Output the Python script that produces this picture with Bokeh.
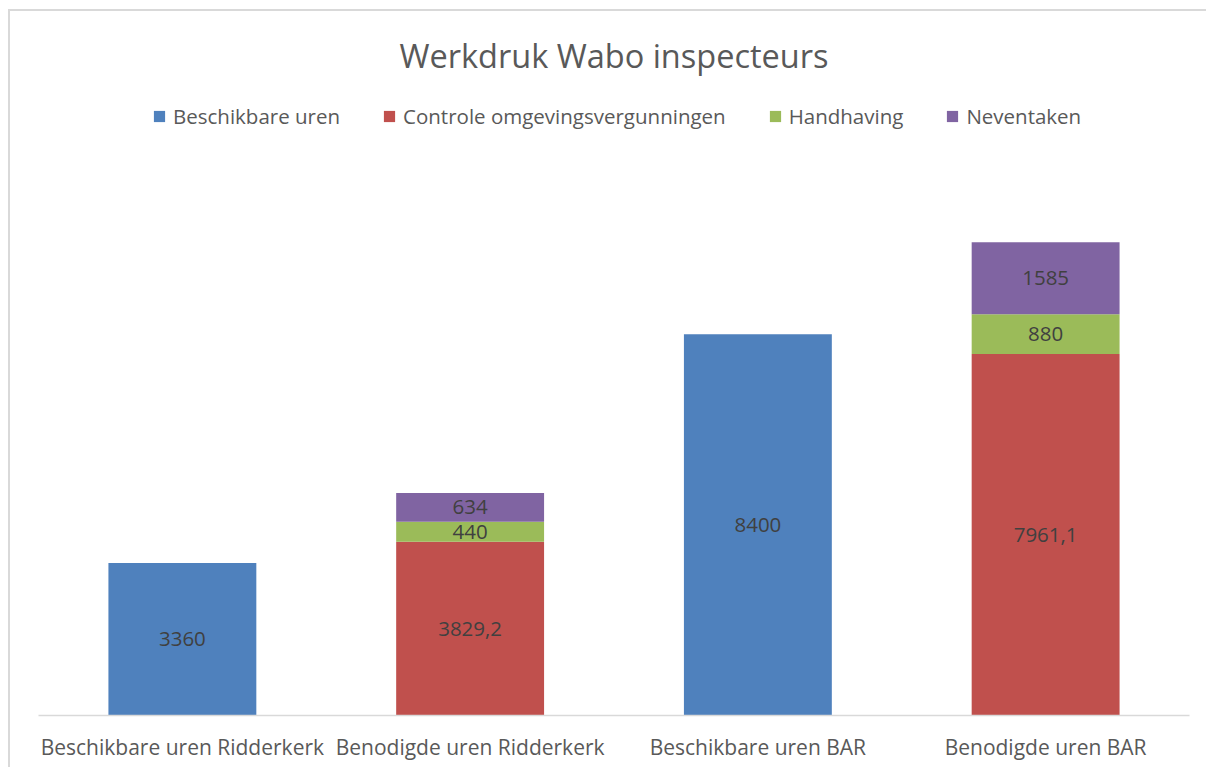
import numpy as np
from bokeh.plotting import figure
from bokeh.models import ColumnDataSource, FactorRange, Range1d, Label, Legend, LegendItem
from bokeh.core.properties import value
from bokeh.embed import file_html
from bokeh.resources import INLINE

categories = ["Beschikbare uren Ridderkerk", "Benodigde uren Ridderkerk",
              "Beschikbare uren BAR", "Benodigde uren BAR"]
series_names = ["Beschikbare uren", "Controle omgevingsvergunningen", "Handhaving", "Neventaken"]
beschikbaar = [3360, 0, 8400, 0]
controle = [0, 3829.2, 0, 7961.1]
handhaving = [0, 440, 0, 880]
neventaken = [0, 634, 0, 1585]
colors = ["#4F81BD", "#C0504D", "#9BBB59", "#8064A2"]
title_text = "Werkdruk Wabo inspecteurs"

FONT = "Open Sans"
keys = ["s0", "s1", "s2", "s3"]
data = dict(cat=categories, s0=beschikbaar, s1=controle, s2=handhaving, s3=neventaken)
src = ColumnDataSource(data)

p = figure(x_range=FactorRange(*categories, range_padding=0),
           y_range=Range1d(0, 15463),
           width=1198, height=758, output_backend="svg", toolbar_location=None,
           min_border_left=28, min_border_right=19, min_border_top=2, min_border_bottom=54,
           styles={"margin-left": "8px", "margin-top": "9px",
                   "border-left": "2px solid #d9d9d9", "border-top": "2px solid #d9d9d9"})

rends = p.vbar_stack(keys, x="cat", width=0.514, color=colors, line_color=None, source=src)

# data labels
all_series = [beschikbaar, controle, handhaving, neventaken]
arr = np.array(all_series, dtype=float)
bottoms = np.vstack([np.zeros(arr.shape[1]), np.cumsum(arr, axis=0)[:-1]])
lx, ly, lt = [], [], []
for i in range(arr.shape[0]):
    for j in range(arr.shape[1]):
        v = arr[i, j]
        if v > 0:
            lx.append(categories[j])
            ly.append(bottoms[i, j] + v / 2)
            lt.append(f"{v:g}".replace(".", ","))
p.text(x=lx, y=ly, text=lt, text_align="center", text_baseline="middle",
       text_font=value(FONT), text_font_size="20.5px", text_color="#404040")

legend = Legend(items=[LegendItem(label=n, renderers=[r]) for n, r in zip(series_names, rends)],
                orientation="horizontal", location=(114, 585),
                glyph_width=14, glyph_height=14, label_standoff=7, spacing=42,
                label_height=22, padding=0, margin=0, border_line_color=None,
                background_fill_alpha=0,
                label_text_font=FONT, label_text_font_size="20.5px", label_text_color="#595959")
p.add_layout(legend, "center")

p.add_layout(Label(x=575.5, y=660, x_units="screen", y_units="screen", text=title_text,
                   text_align="center", text_baseline="middle",
                   text_font=FONT, text_font_size="32.5px", text_color="#595959"))

p.yaxis.visible = False
p.xgrid.grid_line_color = None
p.ygrid.grid_line_color = None
p.outline_line_color = None
p.xaxis.axis_line_color = "#d9d9d9"
p.xaxis.axis_line_width = 1.5
p.xaxis.major_tick_line_color = None
p.xaxis.minor_tick_line_color = None
p.xaxis.major_label_standoff = 11
p.xaxis.major_label_text_font = FONT
p.xaxis.major_label_text_font_size = "21px"
p.xaxis.major_label_text_color = "#595959"
p.xaxis.major_label_orientation = "horizontal"

open("out.html", "w").write(file_html(p, INLINE))
